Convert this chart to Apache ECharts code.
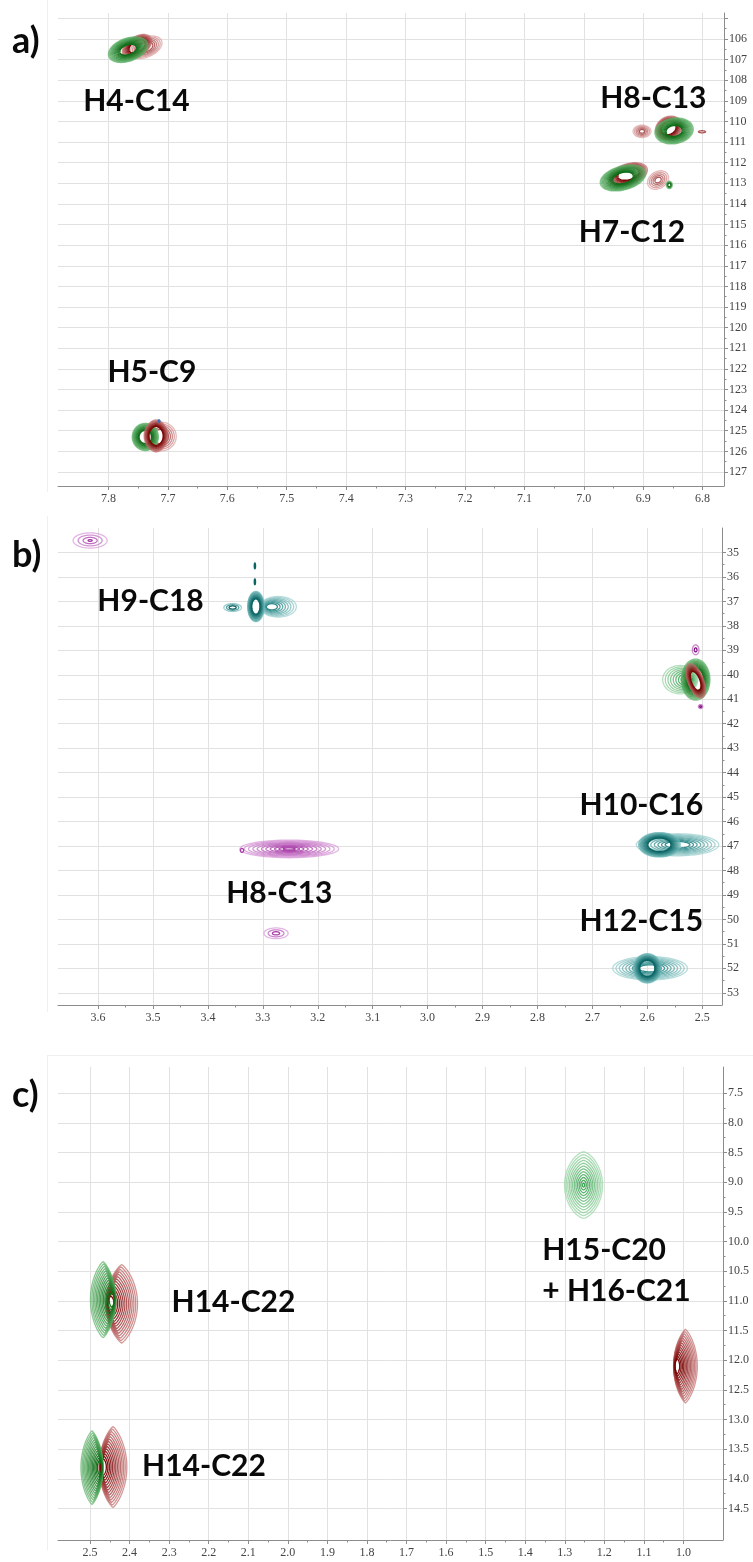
<!DOCTYPE html>
<html>
<head>
<meta charset="utf-8">
<title>HSQC overlays</title>
<script src="https://cdn.jsdelivr.net/npm/echarts@6/dist/echarts.min.js"></script>
<style>
  html, body { margin: 0; padding: 0; background: #ffffff; }
  #chart { width: 753px; height: 1562px; }
</style>
</head>
<body>
<div id="chart"></div>
<script>
// ---------- axis extents and ticks (ppm) ----------
const A_X_RANGE = [6.764, 7.885];
const A_Y_RANGE = [104.74, 127.68];
const A_X_TICKS = [7.8, 7.7, 7.6, 7.5, 7.4, 7.3, 7.2, 7.1, 7.0, 6.9, 6.8];
const A_Y_TICKS = [105, 106, 107, 108, 109, 110, 111, 112, 113, 114, 115, 116, 117, 118, 119, 120, 121, 122, 123, 124, 125, 126, 127];
const A_Y_LABELS = [106, 107, 108, 109, 110, 111, 112, 113, 114, 115, 116, 117, 118, 119, 120, 121, 122, 123, 124, 125, 126, 127];

const B_X_RANGE = [2.464, 3.673];
const B_Y_RANGE = [34.0, 53.5];
const B_X_TICKS = [3.6, 3.5, 3.4, 3.3, 3.2, 3.1, 3.0, 2.9, 2.8, 2.7, 2.6, 2.5];
const B_Y_TICKS = [35, 36, 37, 38, 39, 40, 41, 42, 43, 44, 45, 46, 47, 48, 49, 50, 51, 52, 53];

const C_X_RANGE = [0.9, 2.581];
const C_Y_RANGE = [7.06, 15.03];
const C_X_TICKS = [2.5, 2.4, 2.3, 2.2, 2.1, 2.0, 1.9, 1.8, 1.7, 1.6, 1.5, 1.4, 1.3, 1.2, 1.1, 1.0];
const C_Y_TICKS = [7.5, 8.0, 8.5, 9.0, 9.5, 10.0, 10.5, 11.0, 11.5, 12.0, 12.5, 13.0, 13.5, 14.0, 14.5];

// ---------- cross peaks ----------
// [spectrum, δH, δC, half-width H, half-width C, contour levels, inner ratio, edge shift, shear, pinch]
const PEAKS_A = [
  ['rose',  7.738, 106.40, 0.026, 0.55, 6, 0.45, 0, -0.55, 1],
  ['red',   7.752, 106.36, 0.022, 0.58, 8, 0.55, 0, -0.55, 1],
  ['green', 7.767, 106.52, 0.031, 0.62, 12, 0.42, 0, -0.55, 1],
  ['rose',  6.902, 110.48, 0.015, 0.30, 5, 0.30, 0, 0, 1],
  ['rose',  6.801, 110.50, 0.006, 0.05, 1, 1, 0, 0, 1],
  ['red',   6.857, 110.32, 0.022, 0.58, 8, 0.55, 0, -0.2, 1],
  ['green', 6.848, 110.46, 0.032, 0.63, 12, 0.42, 0, -0.2, 1],
  ['rose',  6.875, 112.84, 0.017, 0.45, 5, 0.30, 0, -0.3, 1],
  ['green', 6.856, 113.08, 0.005, 0.18, 3, 0.5, 0, 0, 1],
  ['red',   6.925, 112.55, 0.030, 0.55, 8, 0.55, 0, -0.6, 1],
  ['green', 6.934, 112.74, 0.036, 0.63, 12, 0.45, 0, -0.6, 1],
  ['rose',  7.712, 125.28, 0.026, 0.70, 5, 0.5, 0, 0, 1],
  ['green', 7.738, 125.30, 0.022, 0.66, 11, 0.48, 0, 0, 1],
  ['red',   7.720, 125.25, 0.020, 0.78, 8, 0.6, 0, 0, 1.2],
  ['blue',  7.715, 124.53, 0.0015, 0.06, 1, 1, 0, 0, 1]
];

const PEAKS_B = [
  ['orchid',     3.6145, 34.51, 0.031, 0.31, 4, 0.12, 0, 0, 1],
  ['tealLight',  3.272, 37.22, 0.033, 0.42, 8, 0.3, -0.5, 0, 1],
  ['teal',       3.355, 37.25, 0.016, 0.16, 3, 0.4, 0, 0, 1],
  ['teal',       3.3127, 37.21, 0.015, 0.62, 12, 0.5, 0, 0, 1],
  ['teal',       3.3145, 35.55, 0.0012, 0.12, 1, 1, 0, 0, 1],
  ['teal',       3.3145, 36.20, 0.0012, 0.12, 1, 1, 0, 0, 1],
  ['greenLight', 2.540, 40.20, 0.032, 0.58, 8, 0.3, 0.5, 0, 1],
  ['green',      2.512, 40.20, 0.026, 0.84, 10, 0.55, 0, 0, 1],
  ['red',        2.512, 40.25, 0.015, 0.70, 8, 0.55, 0, 0.3, 1],
  ['purple',     2.512, 38.98, 0.006, 0.20, 2, 0.4, 0, 0, 1],
  ['purple',     2.503, 41.30, 0.004, 0.08, 2, 0.4, 0, 0, 1],
  ['orchid',     3.252, 47.12, 0.090, 0.36, 11, 0.12, 0, 0, 1],
  ['orchid',     3.338, 47.18, 0.003, 0.08, 1, 1, 0, 0, 1],
  ['orchid',     3.276, 50.57, 0.022, 0.22, 3, 0.3, 0, 0, 1],
  ['tealLight',  2.545, 46.95, 0.075, 0.45, 9, 0.3, 0, 0, 1],
  ['teal',       2.578, 46.95, 0.038, 0.50, 11, 0.55, 0, 0, 1],
  ['tealLight',  2.595, 52.00, 0.068, 0.48, 9, 0.3, 0, 0, 1],
  ['teal',       2.600, 52.00, 0.025, 0.60, 11, 0.55, 0, 0, 1]
];

const PEAKS_C = [
  ['red',        2.420, 11.05, 0.040, 0.66, 14, 0.2, -0.85, 0, 1.6],
  ['green',      2.467, 10.98, 0.032, 0.64, 14, 0.2, 0.85, 0, 1.6],
  ['red',        2.442, 13.80, 0.035, 0.68, 14, 0.2, -0.85, 0, 1.6],
  ['green',      2.495, 13.81, 0.028, 0.62, 14, 0.2, 0.85, 0, 1.6],
  ['greenLight', 1.2525, 9.05, 0.048, 0.56, 12, 0.06, 0, 0, 1.3],
  ['red',        0.995, 12.10, 0.030, 0.62, 14, 0.2, -0.85, 0, 1.6]
];

// ---------- assignments [text, δH, δC] ----------
const LABELS_A = [
  ['H4-C14', 7.753, 109.03],
  ['H8-C13', 6.883, 108.86],
  ['H7-C12', 6.919, 115.38],
  ['H5-C9', 7.727, 122.15]
];
const LABELS_B = [
  ['H9-C18', 3.5045, 37.0],
  ['H8-C13', 3.27, 48.95],
  ['H10-C16', 2.611, 45.33],
  ['H12-C15', 2.611, 50.08]
];
const LABELS_C = [
  ['H15-C20\n+ H16-C21', 1.357, 10.49],
  ['H14-C22', 2.1376, 11.03],
  ['H14-C22', 2.212, 13.79]
];

// ---------- styling ----------
const SPECTRUM_COLOURS = {
  green:      ['#5fb36a', '#0f6c17'],
  greenLight: ['#98d4a4', '#3fa355'],
  red:        ['#c47070', '#780404'],
  rose:       ['#dba0a0', '#ad5858'],
  teal:       ['#6fb8b8', '#0b6464'],
  tealLight:  ['#9dcfcf', '#2f8a8a'],
  orchid:     ['#d89ad8', '#a940a9'],
  purple:     ['#b45ab4', '#7c0f7c'],
  blue:       ['#5b97d6', '#2f6fb8']
};
const AXIS_COLOUR = '#8c8c8c';
const GRID_COLOUR = '#e1e1e1';
const TICK_FONT = '"Liberation Serif", "DejaVu Serif", serif';
const LABEL_FONT = 'Lato, "Open Sans", sans-serif';

const GRIDS = [
  { left: 58, width: 666, top: 13, height: 473 },
  { left: 58, width: 664, top: 528, height: 477 },
  { left: 58, width: 665, top: 1067, height: 473 }
];

function hexToRgb(h) {
  const n = parseInt(h.slice(1), 16);
  return [(n >> 16) & 255, (n >> 8) & 255, n & 255];
}
function mix(a, b, t) {
  const ca = hexToRgb(a), cb = hexToRgb(b);
  const c = ca.map((v, i) => Math.round(v + (cb[i] - v) * t));
  return 'rgb(' + c.join(',') + ')';
}
function midpoints(ticks) {
  const out = [];
  for (let i = 0; i < ticks.length - 1; i++) out.push((ticks[i] + ticks[i + 1]) / 2);
  return out;
}

// nested contour rings for each cross peak, placed through the grid's axes
function contourRenderer(peaks) {
  return function (params, api) {
    const [spec, dH, dC, wH, wC, levels, hole, shift, shear, pinch] = peaks[params.dataIndex];
    const centre = api.coord([dH, dC]);
    const half = api.size([wH, wC]);
    const cols = SPECTRUM_COLOURS[spec];
    const children = [];
    for (let i = 0; i < levels; i++) {
      const f = levels > 1 ? i / (levels - 1) : 1;
      const s = 1 - (1 - hole) * f;
      const rx = half[0] * s, ry = half[1] * s;
      const cx = centre[0] + shift * half[0] * (1 - s);
      const cy = centre[1];
      const pts = [];
      for (let k = 0; k < 72; k++) {
        const t = (Math.PI * 2 * k) / 72;
        const c = Math.cos(t), sn = Math.sin(t);
        const dx = rx * Math.sign(c) * Math.pow(Math.abs(c), pinch);
        const dy = ry * sn;
        pts.push([cx + dx + shear * dy, cy + dy]);
      }
      children.push({
        type: 'polygon',
        shape: { points: pts },
        style: { fill: 'none', stroke: mix(cols[0], cols[1], f), lineWidth: 1.3, opacity: 0.72 + 0.28 * f }
      });
    }
    return { type: 'group', children: children };
  };
}

function xAxes(g, range, ticks) {
  return [
    {
      type: 'value', gridIndex: g, position: 'bottom', inverse: true,
      min: range[0], max: range[1],
      axisLine: { show: true, onZero: false, lineStyle: { color: AXIS_COLOUR, width: 1 } },
      axisTick: { show: true, length: 4, customValues: ticks, lineStyle: { color: AXIS_COLOUR } },
      axisLabel: { customValues: ticks, formatter: v => v.toFixed(1), margin: 7,
        fontFamily: TICK_FONT, fontSize: 12, color: '#444444' },
      splitLine: { show: true, lineStyle: { color: GRID_COLOUR, width: 1 } }
    },
    {
      type: 'value', gridIndex: g, position: 'bottom', inverse: true,
      min: range[0], max: range[1],
      axisLine: { show: false },
      axisTick: { show: true, length: 2.5, customValues: midpoints(ticks), lineStyle: { color: AXIS_COLOUR } },
      axisLabel: { show: false },
      splitLine: { show: false }
    }
  ];
}
function yAxes(g, range, ticks, labels, digits) {
  return [
    {
      type: 'value', gridIndex: g, position: 'right', inverse: true,
      min: range[0], max: range[1],
      axisLine: { show: true, onZero: false, lineStyle: { color: AXIS_COLOUR, width: 1 } },
      axisTick: { show: true, length: 4, customValues: ticks, lineStyle: { color: AXIS_COLOUR } },
      axisLabel: { customValues: labels, formatter: v => v.toFixed(digits), margin: 5,
        fontFamily: TICK_FONT, fontSize: 12, color: '#444444' },
      splitLine: { show: true, lineStyle: { color: GRID_COLOUR, width: 1 } }
    },
    {
      type: 'value', gridIndex: g, position: 'right', inverse: true,
      min: range[0], max: range[1],
      axisLine: { show: false },
      axisTick: { show: true, length: 2.5, customValues: midpoints(ticks), lineStyle: { color: AXIS_COLOUR } },
      axisLabel: { show: false },
      splitLine: { show: false }
    }
  ];
}

function peakSeries(g, peaks) {
  return {
    type: 'custom', coordinateSystem: 'cartesian2d',
    xAxisIndex: 2 * g, yAxisIndex: 2 * g,
    data: peaks.map(p => [p[1], p[2]]),
    renderItem: contourRenderer(peaks),
    silent: true, z: 3
  };
}
function labelSeries(g, labels) {
  return {
    type: 'scatter', coordinateSystem: 'cartesian2d',
    xAxisIndex: 2 * g, yAxisIndex: 2 * g,
    symbolSize: 0, silent: true, z: 5,
    itemStyle: { opacity: 1 },
    data: labels.map(l => {
      const item = { name: l[0], value: [l[1], l[2]] };
      if (l[0].indexOf('\n') >= 0) item.label = { align: 'left' };
      return item;
    }),
    label: {
      show: true, position: 'inside', formatter: '{b}',
      fontFamily: LABEL_FONT, fontWeight: 'bold', fontSize: 30, lineHeight: 41,
      color: '#0a0a0a', opacity: 1
    }
  };
}

const chart = echarts.init(document.getElementById('chart'), null, { renderer: 'canvas' });

const option = {
  animation: false,
  backgroundColor: '#ffffff',
  grid: GRIDS,
  xAxis: [].concat(xAxes(0, A_X_RANGE, A_X_TICKS), xAxes(1, B_X_RANGE, B_X_TICKS), xAxes(2, C_X_RANGE, C_X_TICKS)),
  yAxis: [].concat(
    yAxes(0, A_Y_RANGE, A_Y_TICKS, A_Y_LABELS, 0),
    yAxes(1, B_Y_RANGE, B_Y_TICKS, B_Y_TICKS, 0),
    yAxes(2, C_Y_RANGE, C_Y_TICKS, C_Y_TICKS, 1)
  ),
  series: [
    peakSeries(0, PEAKS_A), labelSeries(0, LABELS_A),
    peakSeries(1, PEAKS_B), labelSeries(1, LABELS_B),
    peakSeries(2, PEAKS_C), labelSeries(2, LABELS_C)
  ],
  graphic: [
    { type: 'line', shape: { x1: 47.5, y1: 0, x2: 47.5, y2: 492 }, style: { stroke: '#efefef', lineWidth: 1 } },
    { type: 'line', shape: { x1: 47.5, y1: 516, x2: 47.5, y2: 1012 }, style: { stroke: '#efefef', lineWidth: 1 } },
    { type: 'line', shape: { x1: 47.5, y1: 1055, x2: 47.5, y2: 1550 }, style: { stroke: '#efefef', lineWidth: 1 } },
    { type: 'line', shape: { x1: 47.5, y1: 1055.5, x2: 753, y2: 1055.5 }, style: { stroke: '#efefef', lineWidth: 1 } },
    { type: 'text', x: 12, y: 41, style: { text: 'a)', font: 'bold 36px Lato, sans-serif', fill: '#0a0a0a', verticalAlign: 'middle' } },
    { type: 'text', x: 12, y: 555, style: { text: 'b)', font: 'bold 36px Lato, sans-serif', fill: '#0a0a0a', verticalAlign: 'middle' } },
    { type: 'text', x: 12, y: 1095, style: { text: 'c)', font: 'bold 36px Lato, sans-serif', fill: '#0a0a0a', verticalAlign: 'middle' } }
  ]
};

chart.setOption(option);
</script>
</body>
</html>
